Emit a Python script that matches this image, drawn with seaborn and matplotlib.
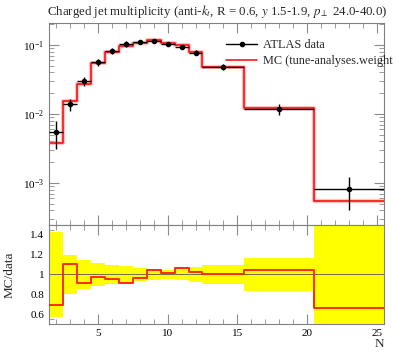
import numpy as np
import matplotlib
matplotlib.use("Agg")
import matplotlib.pyplot as plt
import seaborn as sns
from matplotlib.lines import Line2D
from matplotlib.ticker import MultipleLocator, LogLocator, NullFormatter

# bin edges and data
edges = [1.5, 2.5, 3.5, 4.5, 5.5, 6.5, 7.5, 8.5, 9.5, 10.5, 11.5, 12.5, 15.5, 20.5, 25.5]
data = [0.0055, 0.0138, 0.030, 0.056, 0.083, 0.104, 0.112, 0.113, 0.104, 0.092, 0.077, 0.048, 0.0118, 0.00082]
rel_err = [0.43, 0.20, 0.15, 0.12, 0.10, 0.09, 0.07, 0.06, 0.05, 0.06, 0.08, 0.10, 0.17, 0.50]
ratio = [0.69, 1.105, 0.91, 0.976, 0.95, 0.915, 0.963, 1.047, 1.017, 1.068, 1.03, 1.007, 1.047, 0.658]

edges = np.array(edges)
data = np.array(data)
rel_err = np.array(rel_err)
ratio = np.array(ratio)
mc = ratio * data
centers = 0.5 * (edges[:-1] + edges[1:])
halfw = 0.5 * np.diff(edges)

sns.set_style("ticks")
plt.rcParams["font.family"] = ["Liberation Serif", "DejaVu Serif"]
plt.rcParams["mathtext.fontset"] = "stix"

fig = plt.figure(figsize=(3.97, 3.58), dpi=100)
ax = fig.add_axes([0.1234, 0.3715, 0.8436, 0.5643])
rax = fig.add_axes([0.1234, 0.095, 0.8436, 0.2765], sharex=ax)

# main panel
mc_step = np.append(mc, mc[-1])
ax.step(edges, mc_step, where="post", color="#ff8080", lw=3, alpha=0.45, zorder=1)
sns.lineplot(x=edges, y=mc_step, drawstyle="steps-post", color="red", lw=1.1,
             ax=ax, zorder=2)
ax.errorbar(centers, data, xerr=halfw, yerr=rel_err * data, fmt="o", color="black",
            ms=3, lw=1, capsize=0, zorder=3)
ax.set_yscale("log")
ax.set_ylim(2.45e-4, 0.208)
ax.set_xlim(1.5, 25.5)
ax.yaxis.set_major_locator(LogLocator(base=10, numticks=10))
ax.yaxis.set_minor_locator(LogLocator(base=10, subs=np.arange(2, 10), numticks=10))
ax.yaxis.set_minor_formatter(NullFormatter())
ax.set_title("Charged jet multiplicity (anti-$k_t$, R = 0.6, $y$ 1.5-1.9, $p_\\perp$ 24.0-40.0)",
             fontsize=9.3, loc="left", x=-0.005, pad=6)
handles = [Line2D([], [], color="black", marker="o", ms=3, lw=1),
           Line2D([], [], color="red", lw=1.1)]
ax.legend(handles, ["ATLAS data", "MC (tune-analyses.weight"], frameon=False,
          loc="upper left", bbox_to_anchor=(0.515, 0.945), fontsize=8.8,
          handlelength=2.5, handletextpad=0.5, labelspacing=0.35, borderaxespad=0)
plt.setp(ax.get_xticklabels(), visible=False)

# ratio panel
lo = np.append(1 - rel_err, 1 - rel_err[-1])
hi = np.append(1 + rel_err, 1 + rel_err[-1])
rax.fill_between(edges, lo, hi, step="post", color="#ffff00", lw=0, zorder=1)
rax.axhline(1, color="#707050", lw=0.7, zorder=2)
sns.lineplot(x=edges, y=np.append(ratio, ratio[-1]), drawstyle="steps-post",
             color="#ff2a00", lw=1.4, ax=rax, zorder=3)
rax.set_ylim(0.5, 1.5)
rax.set_yticks([0.6, 0.8, 1.0, 1.2, 1.4])
rax.set_yticklabels(["0.6", "0.8", "1", "1.2", "1.4"])
rax.yaxis.set_minor_locator(MultipleLocator(0.05))
rax.set_xticks([5, 10, 15, 20, 25])
rax.set_ylabel("MC/data", fontsize=9.5)
rax.yaxis.set_label_coords(-0.1, 0.5)
rax.set_xlabel("N", fontsize=9.5, loc="right", labelpad=0)

for a in (ax, rax):
    a.xaxis.set_minor_locator(MultipleLocator(1))
    a.tick_params(which="both", direction="in", top=True, right=True, colors="0.55",
                  labelcolor="black", labelsize=8)
    a.tick_params(which="major", length=7)
    a.tick_params(which="minor", length=3.5)
    for s in a.spines.values():
        s.set_color("0.5")
        s.set_linewidth(0.8)

fig.savefig("out.png", dpi=100)
